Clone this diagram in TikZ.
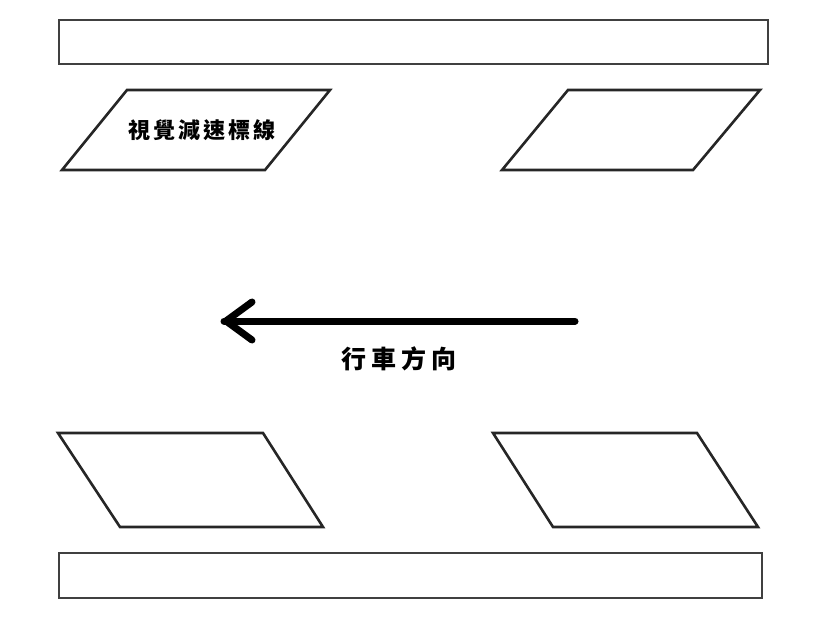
\documentclass[tikz,border=0pt]{standalone}
\usepackage{fontspec}
\newfontfamily\cjk{Noto Sans CJK TC}
\begin{document}
\begin{tikzpicture}[x=1pt,y=-1pt,
  curb/.style={draw=black!75,line width=2.2pt},
  roadmark/.style={draw=black!85,line width=2.6pt,line join=miter},
  lbl/.style={inner sep=0pt}]
\useasboundingbox (0,0) rectangle (834,626);
% curbs
\draw[curb] (59,20) rectangle (768,64);
\draw[curb] (59,553) rectangle (762,598);
% markings
\draw[roadmark] (127,90) -- (330,90) -- (265,170) -- (62,170) -- cycle;
\draw[roadmark] (568,90) -- (760,90) -- (693,170) -- (502,170) -- cycle;
\draw[roadmark] (58,433) -- (263,433) -- (323,527) -- (120,527) -- cycle;
\draw[roadmark] (493,433) -- (697,433) -- (758,527) -- (553,527) -- cycle;
\node[lbl,font=\cjk\bfseries\fontsize{22}{22}\selectfont\addfontfeature{LetterSpace=14}] (t1) at (202,130) {視覺減速標線};
% arrow
\coordinate (as) at (575,321);
\coordinate (ae) at (224,321);
\draw[line width=7pt,line cap=round] (as) -- (ae);
\draw[line width=7pt,line cap=round,line join=round] (252,302) -- (226,321) -- (252,340);
\node[lbl,font=\cjk\bfseries\fontsize{25}{25}\selectfont\addfontfeature{LetterSpace=20}] (t2) at (399,359) {行車方向};
\end{tikzpicture}
\end{document}
